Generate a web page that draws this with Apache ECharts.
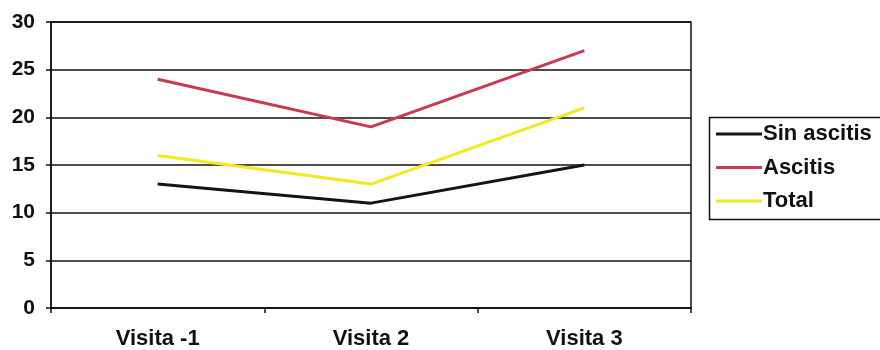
<!DOCTYPE html>
<html>
<head>
<meta charset="utf-8">
<script src="https://cdn.jsdelivr.net/npm/echarts@6/dist/echarts.min.js"></script>
<style>
  html, body { margin: 0; padding: 0; background: #fff; }
  #chart { width: 880px; height: 350px; }
</style>
</head>
<body>
<div id="chart"></div>
<script>
// Visit categories and per-group values
const categories = ['Visita -1', 'Visita 2', 'Visita 3'];
const sinAscitis = [13, 11, 15];
const ascitis = [24, 19, 27];
const total = [16, 13, 21];
const seriesNames = ['Sin ascitis', 'Ascitis', 'Total'];
const seriesColors = ['#141414', '#c73a50', '#f2ea1c'];

const chart = echarts.init(document.getElementById('chart'));
const labelFont = { fontFamily: 'Liberation Sans, Arial, sans-serif', fontWeight: 'bold', fontSize: 21, color: '#111' };

function lineSeries(name, data, color) {
  return {
    name: name, type: 'line', data: data, symbol: 'none',
    lineStyle: { color: color, width: 3 }, itemStyle: { color: color }
  };
}

chart.setOption({
  animation: false,
  grid: { left: 51, right: 189, top: 22, bottom: 40, show: true, borderColor: '#111', borderWidth: 1.5, backgroundColor: 'transparent' },
  legend: {
    orient: 'vertical', left: 711, top: 118, itemWidth: 46, itemHeight: 3, itemGap: 11.5, icon: 'rect',
    textStyle: Object.assign({}, labelFont, { fontSize: 22, padding: [0, 0, 0, -4] }),
    data: seriesNames
  },
  graphic: [{
    type: 'rect', left: 707, top: 115,
    shape: { width: 190, height: 102 },
    style: { fill: 'none', stroke: '#111', lineWidth: 1.5 }
  }],
  xAxis: {
    type: 'category', data: categories, boundaryGap: true,
    axisLine: { lineStyle: { color: '#111', width: 1.5 } },
    axisTick: { show: true, length: 5, lineStyle: { color: '#111', width: 1.5 } },
    axisLabel: Object.assign({}, labelFont, { fontSize: 22, margin: 20 })
  },
  yAxis: {
    type: 'value', min: 0, max: 30, interval: 5,
    axisLine: { show: true, lineStyle: { color: '#111', width: 1.5 } },
    axisTick: { show: true, length: 5, lineStyle: { color: '#111', width: 1.5 } },
    splitLine: { show: true, lineStyle: { color: '#111', width: 1.5 } },
    axisLabel: Object.assign({}, labelFont, { margin: 16 })
  },
  series: [
    lineSeries(seriesNames[0], sinAscitis, seriesColors[0]),
    lineSeries(seriesNames[1], ascitis, seriesColors[1]),
    lineSeries(seriesNames[2], total, seriesColors[2])
  ]
});
</script>
</body>
</html>
